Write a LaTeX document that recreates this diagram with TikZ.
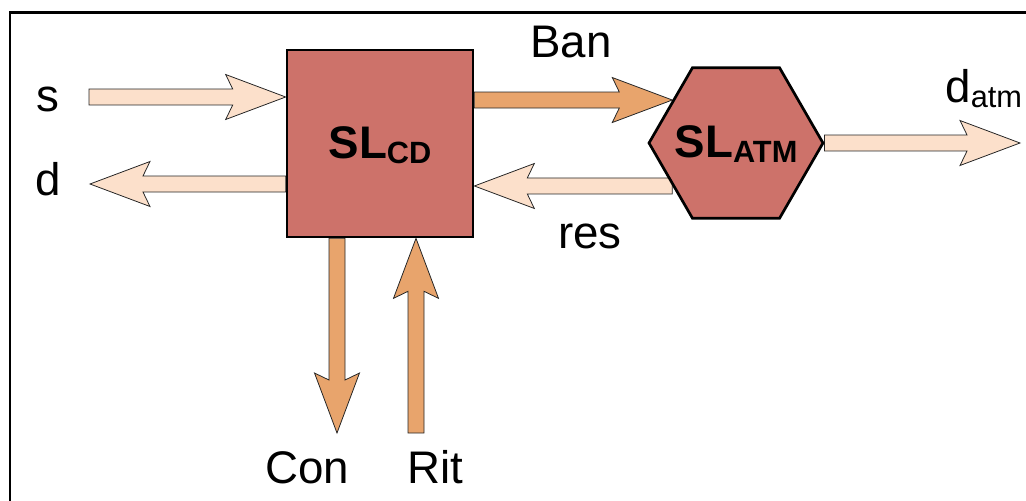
\documentclass[tikz,border=0pt]{standalone}
\usepackage{fontspec}
\setmainfont{Liberation Sans}
\usetikzlibrary{calc,shapes.geometric,backgrounds}

\definecolor{blockred}{RGB}{205,114,106}
\definecolor{peach}{RGB}{252,224,203}
\definecolor{tanflow}{RGB}{232,164,108}

% Block arrow with a swept-back head: #1 style, #2 tail, #3 tip
\newcommand\blockarrow[3]{%
  \coordinate (ba-j) at ($(#3)!1.06cm!(#2)$);
  \coordinate (ba-k) at ($(#3)!1.2cm!(#2)$);
  \draw[#1]
    ($(#2)!0.16cm!90:(#3)$) --
    ($(ba-j)!0.16cm!90:(#3)$) --
    ($(ba-k)!0.45cm!90:(#3)$) --
    (#3) --
    ($(ba-k)!0.45cm!-90:(#3)$) --
    ($(ba-j)!0.16cm!-90:(#3)$) --
    ($(#2)!0.16cm!-90:(#3)$) -- cycle;}

\begin{document}
\begin{tikzpicture}[x=0.02cm, y=-0.02cm,
  unit/.style={draw=black, line width=0.054cm, fill=blockred, inner sep=0pt},
  flowlight/.style={draw=black!85, line width=0.45pt, fill=peach, line join=miter},
  flowdark/.style={draw=black!85, line width=0.45pt, fill=tanflow, line join=miter},
  lbl/.style={anchor=base west, inner sep=0pt, font=\fontsize{26}{30}\selectfont},
  unitlbl/.style={anchor=base, inner sep=0pt, font=\fontsize{26}{30}\selectfont\bfseries},
  frame/.style={draw=black, line width=0.06cm}]

  \useasboundingbox (0,0) rectangle (1026,500);

  % processing units
  \node[unit, rectangle, minimum width=3.72cm, minimum height=3.74cm] (cd) at (380,143.5) {};
  \node[unit, regular polygon, regular polygon sides=6,
        minimum size=3.48cm] (atm) at (736,143) {};

  \node[unitlbl] (cdLabel) at (380,158)
    {SL\raisebox{-0.1cm}{\fontsize{17.5}{20}\selectfont CD}};
  \node[unitlbl] (atmLabel) at (736,157)
    {SL\raisebox{-0.1cm}{\fontsize{17.5}{20}\selectfont ATM}};

  % signal labels
  \node[lbl] (sLbl) at (36,112) {s};
  \node[lbl] (dLbl) at (35,195) {d};
  \node[lbl] (banLbl) at (530,58) {Ban};
  \node[lbl] (resLbl) at (558,248) {res};
  \node[lbl] (datmLbl) at (945,102) {d\raisebox{-0.12cm}{\fontsize{17.5}{20}\selectfont atm}};
  \node[lbl] (conLbl) at (265,483) {Con};
  \node[lbl] (ritLbl) at (407,483) {Rit};

  % free arrow ends
  \coordinate (sTail) at (89,97);
  \coordinate (dTip) at (90,184);
  \coordinate (datmTip) at (1020,143);
  \coordinate (conTip) at (337,433);
  \coordinate (ritTail) at (416,433);

  \begin{pgfonlayer}{background}
    \draw[frame] (10,520) -- (10,13) -- (1040,13);

    \blockarrow{flowlight}{sTail}{sTail -| cd.west}
    \blockarrow{flowlight}{dTip -| cd.west}{dTip}
    \blockarrow{flowdark}{atm.146 -| cd.east}{atm.146}
    \blockarrow{flowlight}{atm.214}{atm.214 -| cd.east}
    \blockarrow{flowlight}{atm.east}{datmTip}
    \blockarrow{flowdark}{conTip |- cd.south}{conTip}
    \blockarrow{flowdark}{ritTail}{ritTail |- cd.south}
  \end{pgfonlayer}
\end{tikzpicture}
\end{document}
